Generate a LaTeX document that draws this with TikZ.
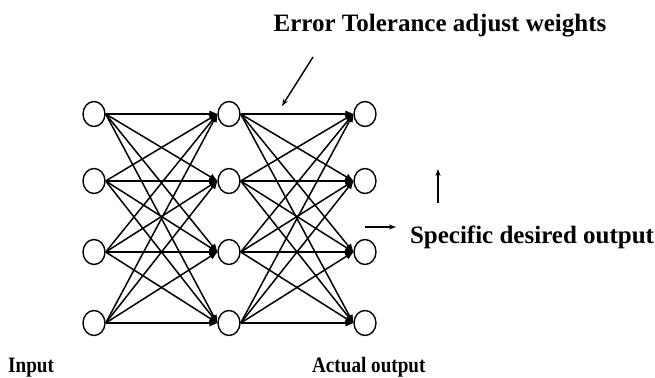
\documentclass[tikz,border=0pt]{standalone}
\usepackage{fontspec}
\setmainfont{Liberation Serif}
\usetikzlibrary{shapes.geometric,arrows.meta}
\begin{document}
\begin{tikzpicture}[x=1pt,y=-1pt,
  neuron/.style={ellipse,draw,line width=1.4pt,minimum width=22pt,minimum height=25pt,inner sep=0pt},
  link/.style={line width=1.5pt,-{Triangle[length=8pt,width=6.5pt]}},
  pointer/.style={line width=1.4pt,-{Stealth[length=7pt,width=5pt]}},
  biglabel/.style={font=\bfseries\fontsize{25}{28}\selectfont,anchor=base,inner sep=0pt},
  smalllabel/.style={font=\bfseries\fontsize{22}{26}\selectfont,anchor=base west,inner sep=0pt}]
\useasboundingbox (0,0) rectangle (655,377);
% three layers of four neurons
\foreach \l/\x in {1/94,2/229,3/365}
  \foreach \r/\y in {1/114,2/181,3/252,4/323}
    \node[neuron] (n\l\r) at (\x,\y) {};
% fully connected links between consecutive layers
\foreach \l/\m in {1/2,2/3}
  \foreach \i in {1,...,4}
    \foreach \j in {1,...,4}
      \draw[link] (n\l\i.east) -- (n\m\j.west);
% labels
\node[biglabel] (err) at (440,32) {Error Tolerance adjust weights};
\node[biglabel] (spec) at (532,243) {Specific desired output};
\node[smalllabel,xscale=0.87,transform shape] (inp) at (8,372) {Input};
\node[smalllabel,xscale=0.87,transform shape] (act) at (312,372) {Actual output};
% pointer arrows
\coordinate (e0) at (313,57);
\coordinate (e1) at (282,106);
\draw[pointer] (e0) -- (e1);
\coordinate (u0) at (438,203);
\coordinate (u1) at (438,169);
\draw[pointer] (u0) -- (u1);
\coordinate (r0) at (365,227);
\coordinate (r1) at (396,227);
\draw[pointer] (r0) -- (r1);
\end{tikzpicture}
\end{document}
